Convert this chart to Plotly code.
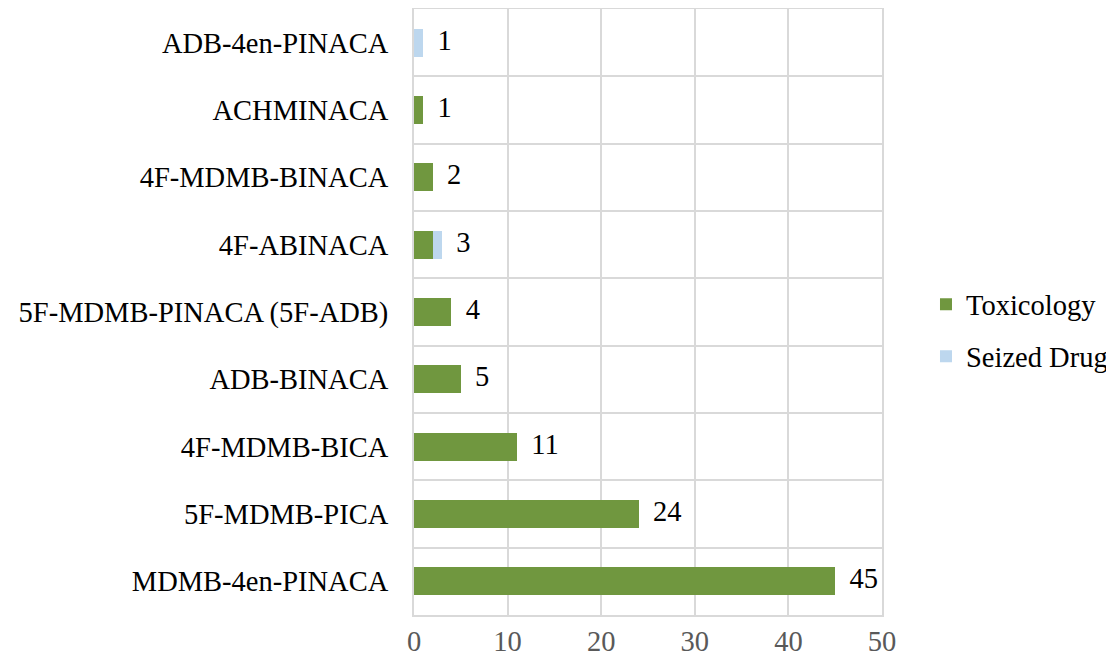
import plotly.graph_objects as go

categories = ["ADB-4en-PINACA", "ACHMINACA", "4F-MDMB-BINACA", "4F-ABINACA",
              "5F-MDMB-PINACA (5F-ADB)", "ADB-BINACA", "4F-MDMB-BICA",
              "5F-MDMB-PICA", "MDMB-4en-PINACA"]
toxicology = [0, 1, 2, 2, 4, 5, 11, 24, 45]
seized_drug = [1, 0, 0, 1, 0, 0, 0, 0, 0]
totals = [t + s for t, s in zip(toxicology, seized_drug)]
x_ticks = [0, 10, 20, 30, 40, 50]

GREEN = "#70973F"
BLUE = "#BDD7EE"
GRID = "#D9D9D9"
FONT = "Liberation Serif, Times New Roman, serif"
FS = 28.5

fig = go.Figure()
fig.add_trace(go.Bar(y=categories, x=toxicology, orientation="h", name="Toxicology",
                     legendgroup="a",
                     marker=dict(color=GREEN, line=dict(width=0))))
fig.add_trace(go.Bar(y=categories, x=seized_drug, orientation="h", name="Seized Drug",
                     legendgroup="b",
                     marker=dict(color=BLUE, line=dict(width=0))))
fig.add_trace(go.Scatter(y=categories, x=totals, mode="text",
                         text=["  " + str(v) for v in totals],
                         textposition="middle right",
                         textfont=dict(family=FONT, size=FS, color="#000000"),
                         showlegend=False, hoverinfo="skip", cliponaxis=False))

fig.update_layout(
    width=1106, height=654,
    barmode="stack", bargap=0.58,
    plot_bgcolor="white", paper_bgcolor="white",
    margin=dict(l=406, r=232, t=1, b=47, autoexpand=False),
    font=dict(family=FONT, size=FS, color="#000000"),
    legend=dict(x=1.094, y=0.469, xanchor="left", yanchor="middle",
                traceorder="grouped", font=dict(size=FS, color="#000000"),
                itemwidth=30, tracegroupgap=12, bgcolor="rgba(0,0,0,0)"),
    showlegend=True,
)
fig.update_xaxes(range=[0, 50], tickvals=x_ticks, showgrid=True, gridcolor=GRID,
                 gridwidth=2, zeroline=False, showline=True, linecolor=GRID,
                 linewidth=2, mirror=True, ticks="", automargin=False,
                 tickfont=dict(size=FS, color="#595959"))
fig.update_yaxes(type="category", categoryorder="array",
                 categoryarray=list(reversed(categories)),
                 tickson="boundaries", showgrid=True, gridcolor=GRID, gridwidth=2,
                 showline=True, linecolor=GRID, linewidth=2, mirror=True,
                 ticks="", ticklabelstandoff=18, automargin=False,
                 tickfont=dict(size=FS, color="#000000"))

fig.write_html("out.html")
